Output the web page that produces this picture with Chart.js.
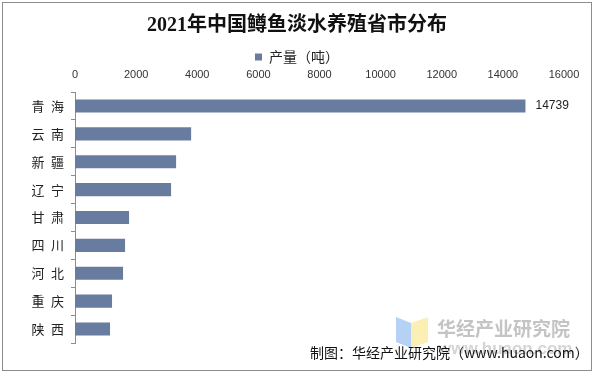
<!DOCTYPE html>
<html>
<head>
<meta charset="utf-8">
<script src="https://cdn.jsdelivr.net/npm/chart.js@4"></script>
<style>
  body { margin: 0; background: #ffffff; }
</style>
</head>
<body>
<canvas id="graph-truite" width="594" height="373"></canvas>
<script>
// ==================== données ===================
const provinces = ["青海", "云南", "新疆", "辽宁", "甘肃", "四川", "河北", "重庆", "陕西"];
const production = [14739, 3800, 3308, 3144, 1769, 1638, 1572, 1212, 1146];
const labelIndex = [0]; // seule la barre du Qinghai porte une etiquette
const xMin = 0;
const xMax = 16000;
const xStep = 2000;

const titreTexte = "2021年中国鳟鱼淡水养殖省市分布";
const legendeTexte = "产量（吨）";
const sourceTexte = "制图：华经产业研究院（www.huaon.com）";

const couleurBarre = "#687ca0";
const policeCjk = "'Noto Sans CJK SC', sans-serif";
const policeChiffres = "'Liberation Sans', 'Noto Sans CJK SC', sans-serif";

// ==================== plugins ===================
const cadrePlugin = {
  id: "cadre",
  afterInit(chart) {
    // la legende de Chart.js ajoute 10px en dessous, on les retire
    const legend = chart.legend;
    const fitOrig = legend.fit;
    legend.fit = function () {
      fitOrig.call(this);
      this.height -= 10;
    };
  },
  beforeDraw(chart) {
    const ctx = chart.ctx;
    ctx.save();
    ctx.fillStyle = "#ffffff";
    ctx.fillRect(0, 0, chart.width, chart.height);
    ctx.strokeStyle = "#8c8c8c";
    ctx.lineWidth = 1;
    ctx.strokeRect(2.5, 2.5, 589, 368);

    // filigrane (logo + nom)
    ctx.fillStyle = "#b5d2f6";
    ctx.beginPath();
    ctx.moveTo(396, 317);
    ctx.lineTo(411, 323);
    ctx.lineTo(411, 348);
    ctx.lineTo(396, 342);
    ctx.closePath();
    ctx.fill();
    ctx.fillStyle = "#fbefb4";
    ctx.beginPath();
    ctx.moveTo(411, 323);
    ctx.lineTo(428, 317);
    ctx.lineTo(428, 342);
    ctx.lineTo(411, 348);
    ctx.closePath();
    ctx.fill();
    ctx.fillStyle = "#c4c4c4";
    ctx.font = "bold 19px " + policeCjk;
    ctx.textBaseline = "middle";
    ctx.textAlign = "left";
    ctx.fillText("华经产业研究院", 437, 329);
    ctx.fillStyle = "#d4d4d4";
    ctx.font = "bold 17px " + policeChiffres;
    ctx.fillText("www.huaon.com", 438, 349);
    ctx.restore();
  },
  afterDraw(chart) {
    const ctx = chart.ctx;
    ctx.save();
    // etiquette de valeur
    const meta = chart.getDatasetMeta(0);
    ctx.fillStyle = "#222222";
    ctx.font = "12px " + policeChiffres;
    ctx.textAlign = "left";
    ctx.textBaseline = "middle";
    labelIndex.forEach((i) => {
      const bar = meta.data[i];
      ctx.fillText(String(production[i]), bar.x + 10, bar.y);
    });
    // source
    ctx.fillStyle = "#111111";
    ctx.font = "14px " + policeCjk;
    ctx.fillText(sourceTexte, 310, 353);
    ctx.restore();
  },
};

// ==================== graphique ===================
const ctxTruite = document.getElementById("graph-truite").getContext("2d");
let chartTruite = new Chart(ctxTruite, {
  type: "bar",
  data: {
    labels: provinces,
    datasets: [
      {
        label: legendeTexte,
        data: production,
        backgroundColor: couleurBarre,
        borderWidth: 0,
        categoryPercentage: 1,
        barPercentage: 0.47,
      },
    ],
  },
  options: {
    indexAxis: "y",
    responsive: false,
    animation: false,
    layout: {
      padding: { left: 30, right: 30, top: 0, bottom: 30 },
    },
    plugins: {
      title: {
        display: true,
        text: titreTexte,
        color: "#111111",
        font: { family: "'Liberation Serif', 'Noto Sans CJK SC', serif", size: 20, weight: "bold" },
        padding: { top: 14, bottom: 10 },
      },
      legend: {
        display: true,
        labels: {
          color: "#222222",
          font: { family: policeCjk, size: 14 },
          boxWidth: 7,
          boxHeight: 7,
          padding: 2,
        },
      },
      tooltip: { enabled: false },
    },
    scales: {
      x: {
        position: "top",
        min: xMin,
        max: xMax,
        grid: { display: false, tickLength: 0 },
        border: { display: false },
        ticks: {
          stepSize: xStep,
          color: "#333333",
          font: { family: policeChiffres, size: 11 },
          padding: 10,
          maxRotation: 0,
          callback: (v) => String(v),
        },
        afterFit(scale) {
          scale.height = 28;
        },
      },
      y: {
        grid: {
          display: true,
          offset: true,
          drawOnChartArea: false,
          drawTicks: true,
          tickLength: 4,
          color: "#8c8c8c",
        },
        border: { display: true, color: "#8c8c8c", width: 1 },
        ticks: {
          color: "#222222",
          font: { family: policeCjk, size: 13 },
          padding: 7,
          callback: (v, i) => provinces[i].split("").join("\u2002"),
        },
        afterFit(scale) {
          scale.width = 45;
        },
      },
    },
  },
  plugins: [cadrePlugin],
});
</script>
</body>
</html>
